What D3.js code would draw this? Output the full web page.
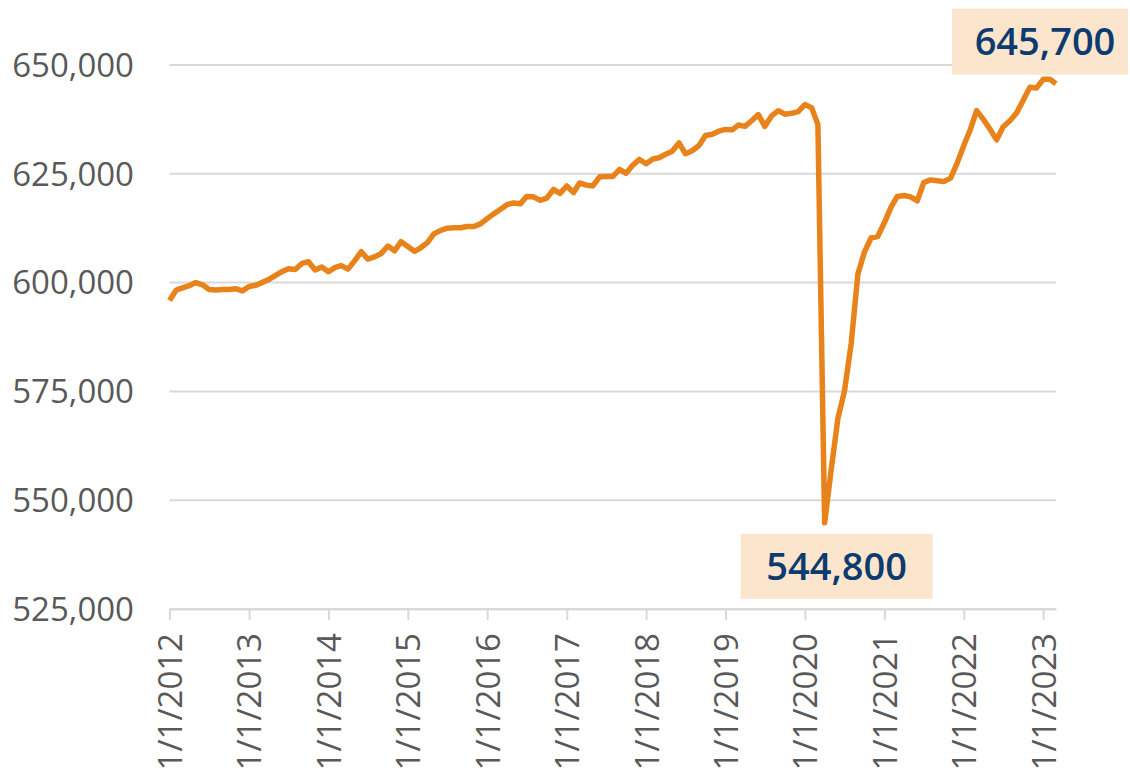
<!DOCTYPE html>
<html>
<head>
<meta charset="utf-8">
<script src="https://cdn.jsdelivr.net/npm/d3@7"></script>
<style>
  body { margin: 0; background: #fff; }
  text { font-family: "Open Sans", "Liberation Sans", sans-serif; }
</style>
</head>
<body>
<div id="chart"></div>
<script>
// monthly values, Jan 2012 .. Mar 2023
var firstMonth = new Date(2012, 0, 1);
var lastMonth = new Date(2023, 2, 1);
var jobs = [
  595900, 598300, 598800, 599300, 600000, 599500, 598400, 598300, 598400, 598400, 598600, 598100,
  599100, 599400, 600000, 600700, 601600, 602500, 603200, 603000, 604400, 604800, 602900, 603600,
  602500, 603500, 603900, 603100, 605000, 607100, 605400, 605900, 606700, 608400, 607300, 609400,
  608300, 607200, 608000, 609200, 611200, 612000, 612500, 612600, 612600, 612900, 612900, 613500,
  614700, 615800, 616800, 617900, 618300, 618100, 619800, 619700, 618900, 619400, 621400, 620500,
  622200, 620700, 622900, 622400, 622200, 624300, 624400, 624400, 626000, 625100, 627000, 628300,
  627300, 628400, 628700, 629500, 630200, 632100, 629600, 630300, 631500, 633800, 634100, 634800,
  635200, 635100, 636200, 635900, 637200, 638600, 635900, 638300, 639500, 638700, 638900, 639300,
  640900, 640200, 636300, 544800, 557000, 568800, 575000, 586000, 602000, 607000, 610300, 610600,
  613800, 617400, 619800, 620000, 619700, 618800, 623000, 623600, 623400, 623200, 624000, 627400,
  631500, 635300, 639500, 637500, 635300, 632800, 635800, 637200, 639000, 641900, 644900, 644700,
  646700, 646700, 645700
];
var yTicks = [525000, 550000, 575000, 600000, 625000, 650000];
var xTickYears = [2012, 2013, 2014, 2015, 2016, 2017, 2018, 2019, 2020, 2021, 2022, 2023];
var xTickLabels = xTickYears.map(function(y) { return "1/1/" + y; });
// callouts: label and month index of the point
var calloutLabels = ["544,800", "645,700"];
var calloutIndex = [99, 134];

var width = 1130, height = 773;
var svg = d3.select("#chart").append("svg")
  .attr("width", width)
  .attr("height", height);

var months = d3.timeMonth.range(firstMonth, d3.timeMonth.offset(lastMonth, 1));
var data = months.map(function(d, i) { return { date: d, value: jobs[i] }; });

var x = d3.scaleTime()
  .domain([firstMonth, lastMonth])
  .range([169.5, 1056]);

var y = d3.scaleLinear()
  .domain([525000, 650000])
  .range([609, 65]);

// grid lines
svg.append("g")
  .selectAll("line")
  .data(yTicks)
  .enter()
  .append("line")
  .attr("x1", x.range()[0])
  .attr("x2", x.range()[1])
  .attr("y1", d => y(d))
  .attr("y2", d => y(d))
  .style("stroke", "#d9d9d9")
  .style("stroke-width", 2);

// y labels
svg.append("g")
  .selectAll("text")
  .data(yTicks)
  .enter()
  .append("text")
  .attr("x", 134)
  .attr("y", d => y(d))
  .attr("dy", "0.36em")
  .style("text-anchor", "end")
  .style("font-size", "33px")
  .style("fill", "#595959")
  .text(d => d3.format(",")(d));

// x axis
var xAxis = d3.axisBottom(x)
  .tickValues(xTickYears.map(function(yr) { return new Date(yr, 0, 1); }))
  .tickSize(11)
  .tickSizeOuter(0)
  .tickFormat(function(d, i) { return xTickLabels[i]; });

var gx = svg.append("g")
  .attr("transform", "translate(0," + y(525000) + ")")
  .call(xAxis);
gx.select(".domain").style("stroke", "#d9d9d9").style("stroke-width", 2);
gx.selectAll(".tick line").style("stroke", "#d9d9d9").style("stroke-width", 2);
gx.selectAll(".tick text")
  .attr("transform", "rotate(-90)")
  .attr("x", -24)
  .attr("y", 0)
  .attr("dy", "0.36em")
  .style("text-anchor", "end")
  .style("font-size", "33px")
  .style("font-family", "'Open Sans', sans-serif")
  .style("fill", "#595959");

// the line
var line = d3.line()
  .x(d => x(d.date))
  .y(d => y(d.value));

svg.append("path")
  .datum(data)
  .attr("d", line)
  .style("fill", "none")
  .style("stroke", "#e8831b")
  .style("stroke-width", 5.5)
  .style("stroke-linejoin", "round");

// callout boxes
var boxes = [
  { dx0: -84, dx1: 108, dy0: 11, dy1: 76, tx: 0 },
  { dx0: -104, dx1: 72, dy0: -75, dy1: -9, tx: 5 }
];
calloutIndex.forEach(function(idx, i) {
  var px = x(data[idx].date), py = y(data[idx].value);
  var b = boxes[i];
  svg.append("rect")
    .attr("x", px + b.dx0)
    .attr("y", py + b.dy0)
    .attr("width", b.dx1 - b.dx0)
    .attr("height", b.dy1 - b.dy0)
    .style("fill", "#fbe6cd");
  svg.append("text")
    .attr("x", px + (b.dx0 + b.dx1) / 2 + b.tx)
    .attr("y", py + (b.dy0 + b.dy1) / 2)
    .attr("dy", "0.36em")
    .style("text-anchor", "middle")
    .style("font-size", "38px")
    .style("font-weight", 600)
    .style("fill", "#0d3a6f")
    .text(calloutLabels[i]);
});
</script>
</body>
</html>
